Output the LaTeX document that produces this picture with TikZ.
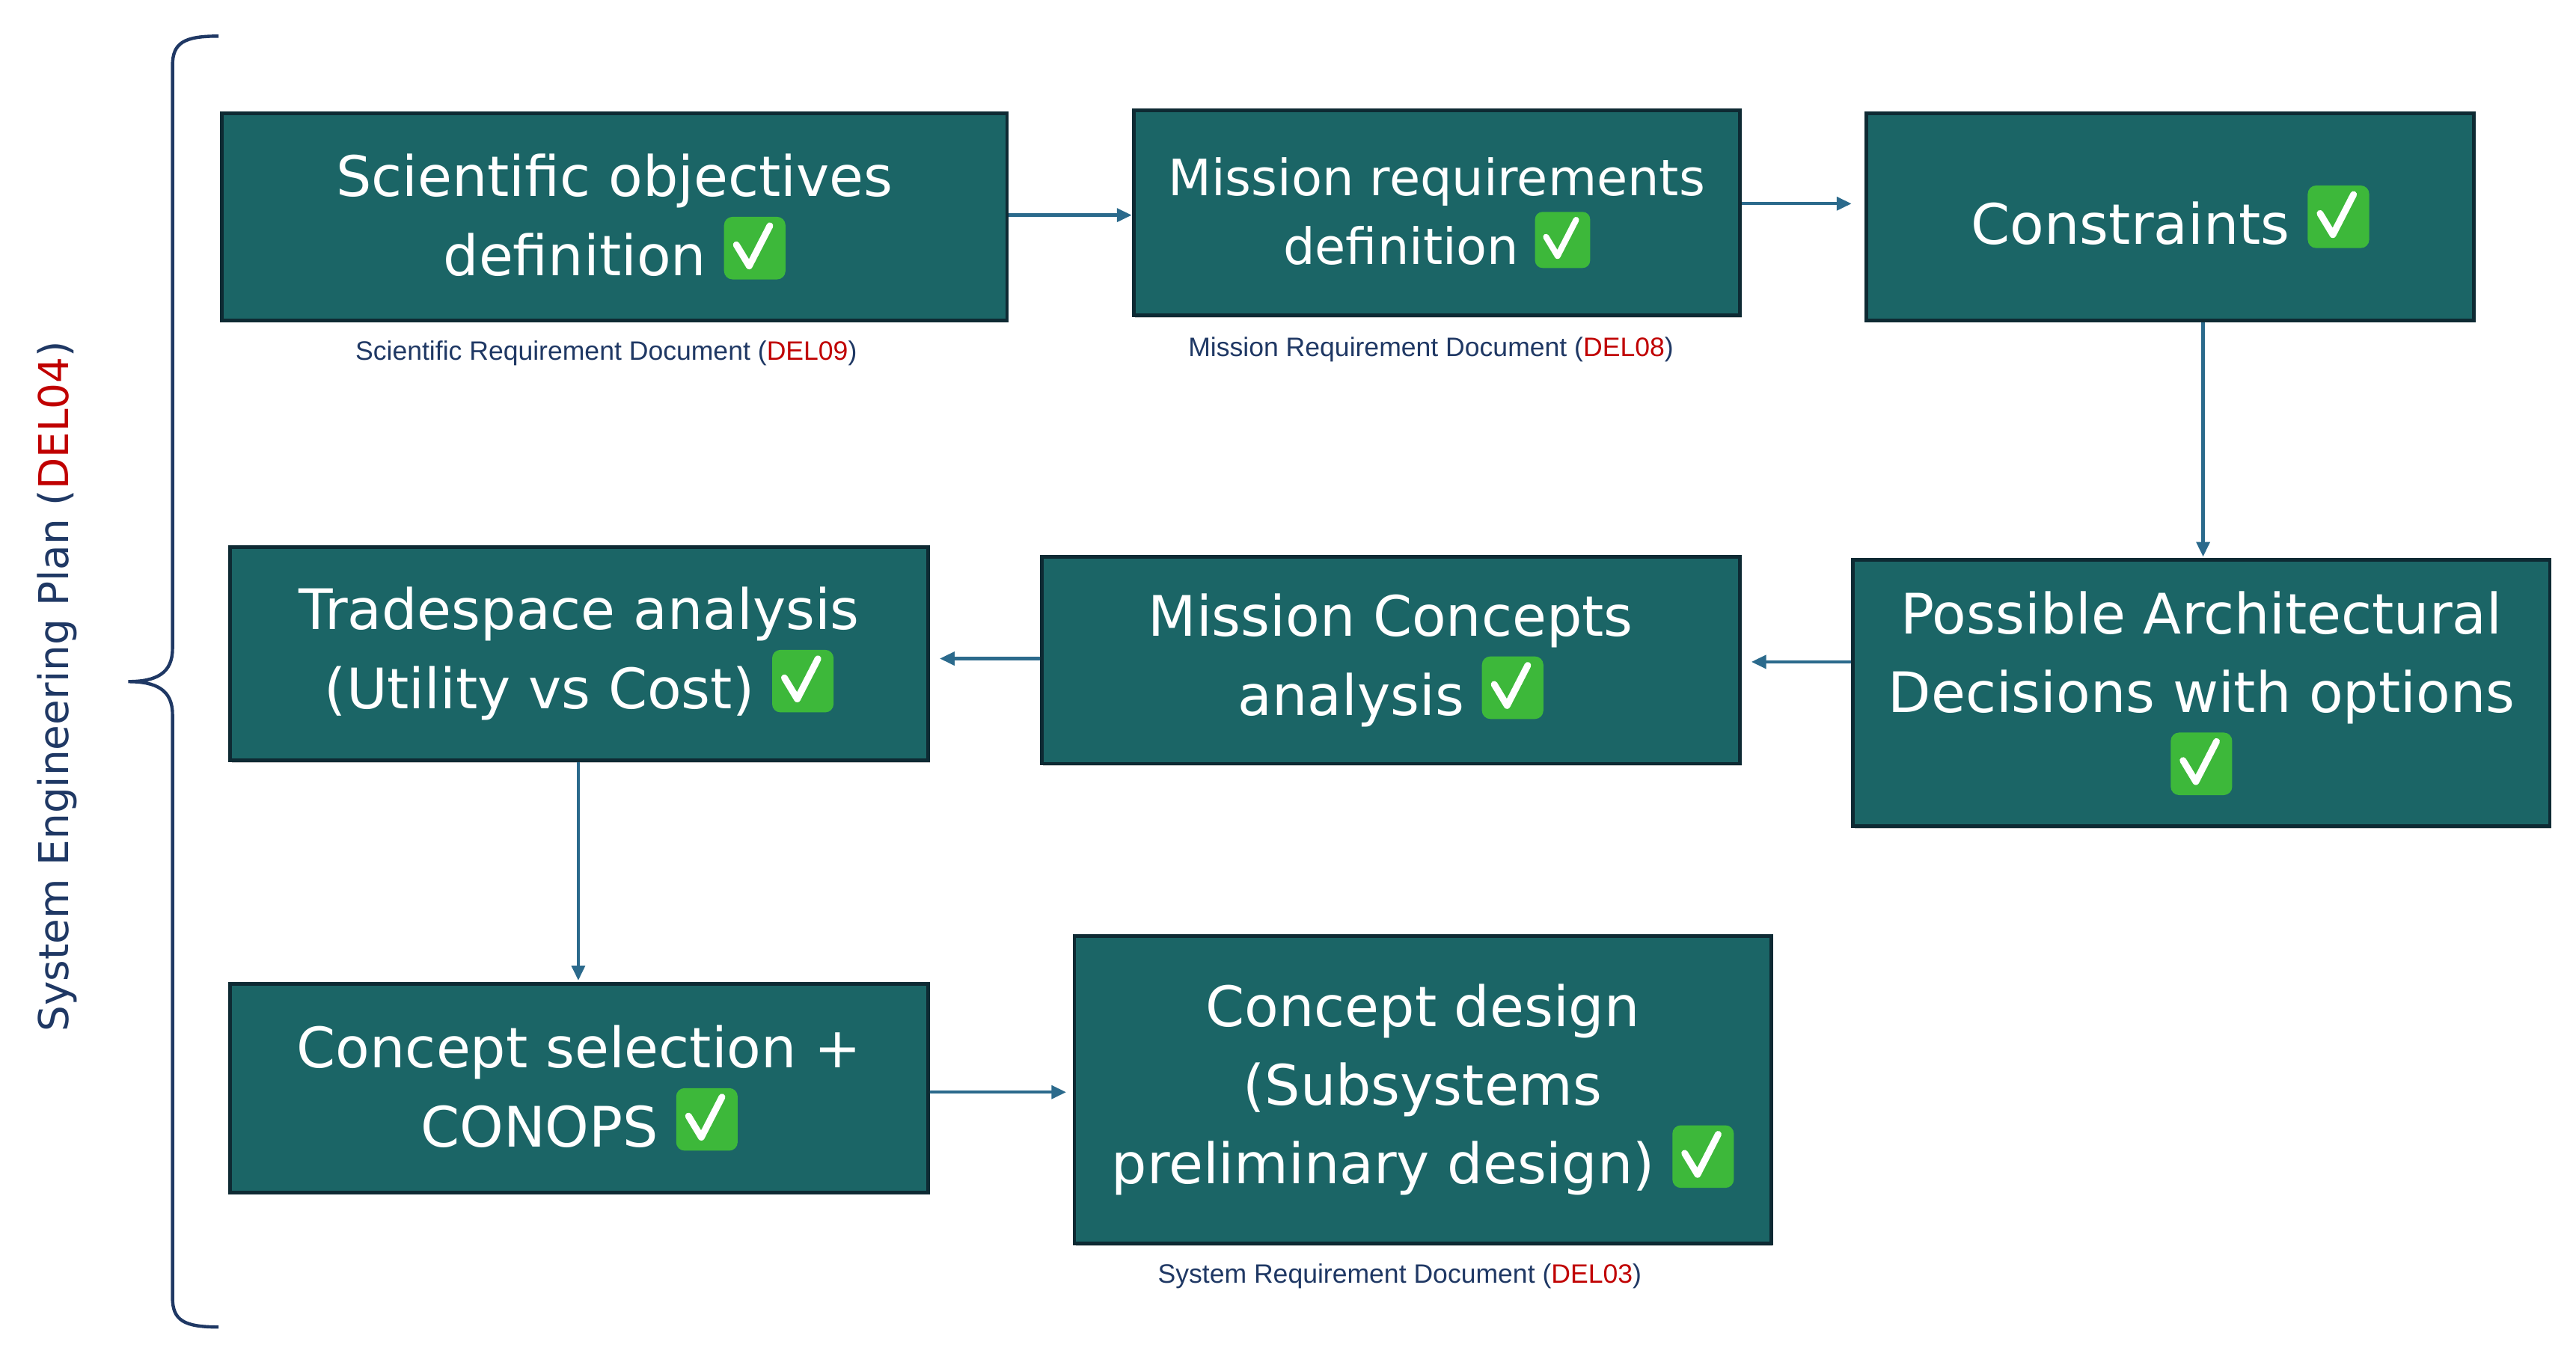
\documentclass[tikz,border=0pt]{standalone}
\usepackage{fontspec}
\setmainfont{DejaVu Sans}
\newfontfamily\capfont{Liberation Sans}
\usetikzlibrary{arrows.meta,shadows}
\definecolor{teal}{HTML}{1B6566}
\definecolor{bord}{HTML}{0E2A33}
\definecolor{arr}{HTML}{2B6A8C}
\definecolor{navy}{HTML}{1F3864}
\definecolor{dred}{HTML}{C00000}
\definecolor{chkg}{HTML}{3DB83A}
\newcommand\chk{\tikz[baseline=-0.05em]{\fill[chkg,rounded corners=0.15em] (0,-0.12em) rectangle (1.1em,1.0em);\draw[white,line width=0.12em,line cap=round,line join=round] (0.22em,0.5em)--(0.45em,0.12em)--(0.82em,0.84em);}}
\begin{document}
\begin{tikzpicture}[x=1pt,y=-1pt,
 box/.style={draw=bord,line width=2.2pt,fill=teal,text=white,align=center,inner sep=0pt,
   font=\fontsize{34}{48}\selectfont,drop shadow={shadow xshift=1pt,shadow yshift=-1.5pt,opacity=0.4}},
 doccap/.style={text=navy,font=\capfont\fontsize{16.2}{19}\selectfont},
 ar/.style={draw=arr,line width=2pt,-{Triangle[length=9pt,width=8pt]}}]
\useasboundingbox (0,0) rectangle (1568,831);
\fill[white] (0,0) rectangle (1568,831);
\node[box,minimum width=478,minimum height=126] (b1) at (374,132) {Scientific objectives\\definition \chk};
\node[box,minimum width=369,minimum height=125,font=\fontsize{30.5}{42}\selectfont] (b2) at (874.5,129.5) {Mission requirements\\definition \chk};
\node[box,minimum width=370,minimum height=126] (b3) at (1321,132) {Constraints \chk};
\node[box,minimum width=424,minimum height=162] (b4) at (1340,422) {Possible Architectural\\Decisions with options\\\chk};
\node[box,minimum width=425,minimum height=126] (b5) at (846.5,402) {Mission Concepts\\analysis \chk};
\node[box,minimum width=425,minimum height=130] (b6) at (352.5,398) {Tradespace analysis\\(Utility vs Cost) \chk};
\node[box,minimum width=425,minimum height=127] (b7) at (352.5,662.5) {Concept selection +\\CONOPS \chk};
\node[box,minimum width=424,minimum height=187] (b8) at (866,663.5) {Concept design\\(Subsystems\\preliminary design) \chk};
\node[doccap] (c1) at (369,215) {Scientific Requirement Document (\textcolor{dred}{DEL09})};
\node[doccap] (c2) at (871,213) {Mission Requirement Document (\textcolor{dred}{DEL08})};
\node[doccap] (c3) at (852,777) {System Requirement Document (\textcolor{dred}{DEL03})};
\draw[ar] (b1.east|-0,131) -- (b2.west|-0,131);
\draw[ar] (b2.east|-0,124) -- (1127,124);
\draw[ar] (1341,0|-b3.south) -- (1341,339);
\draw[ar] (b4.west|-0,403) -- (1066,403);
\draw[ar] (b5.west|-0,401) -- (572,401);
\draw[ar] (352,0|-b6.south) -- (352,597);
\draw[ar] (b7.east|-0,665) -- (649,665);
\draw[navy,line width=2pt] (133,22) .. controls (112,22) and (105,26) .. (105,40) -- (105,395)
  .. controls (105,410) and (95,415) .. (78,415) .. controls (95,415) and (105,420) .. (105,435)
  -- (105,790) .. controls (105,804) and (112,808) .. (133,808);
\node[rotate=90,text=navy,font=\fontsize{25}{30}\selectfont] (t) at (35,418) {System Engineering Plan (\textcolor{dred}{DEL04})};
\end{tikzpicture}
\end{document}
